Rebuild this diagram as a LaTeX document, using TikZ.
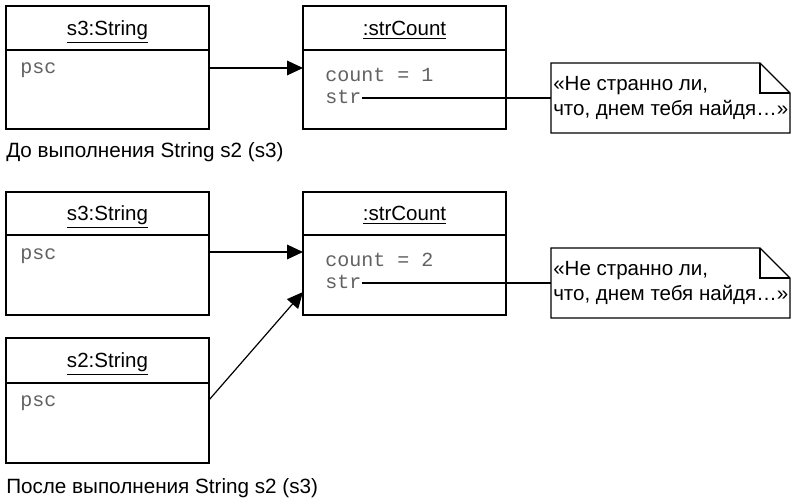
\documentclass[tikz,border=0pt]{standalone}
\usepackage{fontspec}
\setmainfont{Liberation Sans}
\newfontfamily\monofnt{Liberation Mono}
\usetikzlibrary{calc,arrows.meta}
\begin{document}
\begin{tikzpicture}[x=0.75pt,y=-0.75pt,
  objbox/.style={draw, line width=1pt, anchor=north west, inner sep=0pt, outer sep=0pt,
    minimum width=152.25pt, minimum height=92.25pt},
  hdr/.style={anchor=base, inner sep=0pt, font=\fontsize{15.4}{18}\selectfont},
  attr/.style={anchor=base west, inner sep=0pt, text=black!62, font=\fontsize{15}{18}\monofnt},
  captxt/.style={anchor=base west, inner sep=0pt, font=\fontsize{15.5}{18}\selectfont},
  notearea/.style={anchor=north west, inner sep=0pt, outer sep=0pt,
    minimum width=179.25pt, minimum height=52.5pt},
  notetxt/.style={anchor=north west, inner sep=0pt, align=left, font=\fontsize{15.4}{18.75}\selectfont},
  arr/.style={line width=0.9pt, -{Triangle[length=12pt,width=11pt]}},
  lnk/.style={line width=0.9pt}
]
\useasboundingbox (0,0) rectangle (794,502);

% ---------- top diagram ----------
\node[objbox] (s3a) at (6,6) {};
\draw[line width=1pt] ($(s3a.north west)+(0,44)$) -- ($(s3a.north east)+(0,44)$);
\node[hdr] (s3ah) at ($(s3a.north)+(0,30)$) {\underline{s3:String}};
\node[attr] (psc1) at ($(s3a.north west)+(14,68)$) {psc};

\node[objbox] (c1) at (303,6) {};
\draw[line width=1pt] ($(c1.north west)+(0,44)$) -- ($(c1.north east)+(0,44)$);
\node[hdr] (c1h) at ($(c1.north)+(0,30)$) {\underline{:strCount}};
\node[attr] (cnt1) at ($(c1.north west)+(22,76)$) {count = 1};
\node[attr] (str1) at ($(c1.north west)+(22,98)$) {str};

\node[notearea] (n1) at (551,63) {};
\draw[line width=0.9pt] (n1.south west) -- (n1.north west) -- ($(n1.north east)+(-30,0)$)
  -- ($(n1.north east)+(0,30)$) -- (n1.south east) -- cycle;
\draw[line width=0.9pt] ($(n1.north east)+(-30,0)$) -- ($(n1.north east)+(-30,30)$) -- ($(n1.north east)+(0,30)$);
\node[notetxt] (t1) at (553,76) {«Не странно ли,\\что, днем тебя найдя…»};

\draw[arr] ($(s3a.north east)+(0,62)$) -- ($(c1.north west)+(0,62)$);
\draw[lnk] ([yshift=4.5pt]str1.base east) coordinate (a1) -- (a1 -| n1.west);

\node[captxt] (cap1) at (6,158) {До выполнения String s2 (s3)};

% ---------- bottom diagram ----------
\node[objbox] (s3b) at (6,192) {};
\draw[line width=1pt] ($(s3b.north west)+(0,43)$) -- ($(s3b.north east)+(0,43)$);
\node[hdr] (s3bh) at ($(s3b.north)+(0,29)$) {\underline{s3:String}};
\node[attr] (psc2) at ($(s3b.north west)+(14,68)$) {psc};

\node[objbox] (c2) at (303,192) {};
\draw[line width=1pt] ($(c2.north west)+(0,43)$) -- ($(c2.north east)+(0,43)$);
\node[hdr] (c2h) at ($(c2.north)+(0,29)$) {\underline{:strCount}};
\node[attr] (cnt2) at ($(c2.north west)+(22,75)$) {count = 2};
\node[attr] (str2) at ($(c2.north west)+(22,97)$) {str};

\node[objbox, minimum height=93.75pt] (s2b) at (6,338) {};
\draw[line width=1pt] ($(s2b.north west)+(0,45)$) -- ($(s2b.north east)+(0,45)$);
\node[hdr] (s2bh) at ($(s2b.north)+(0,30)$) {\underline{s2:String}};
\node[attr] (psc3) at ($(s2b.north west)+(14,69)$) {psc};

\node[notearea] (n2) at (551,248) {};
\draw[line width=0.9pt] (n2.south west) -- (n2.north west) -- ($(n2.north east)+(-30,0)$)
  -- ($(n2.north east)+(0,30)$) -- (n2.south east) -- cycle;
\draw[line width=0.9pt] ($(n2.north east)+(-30,0)$) -- ($(n2.north east)+(-30,30)$) -- ($(n2.north east)+(0,30)$);
\node[notetxt] (t2) at (553,261) {«Не странно ли,\\что, днем тебя найдя…»};

\draw[arr] ($(s3b.north east)+(0,60)$) -- ($(c2.north west)+(0,60)$);
\draw[arr] ($(s2b.north east)+(0,62)$) -- ($(c2.north west)+(0,100)$);
\draw[lnk] ([yshift=4.5pt]str2.base east) coordinate (a2) -- (a2 -| n2.west);

\node[captxt] (cap2) at (6,494) {После выполнения String s2 (s3)};
\end{tikzpicture}
\end{document}
